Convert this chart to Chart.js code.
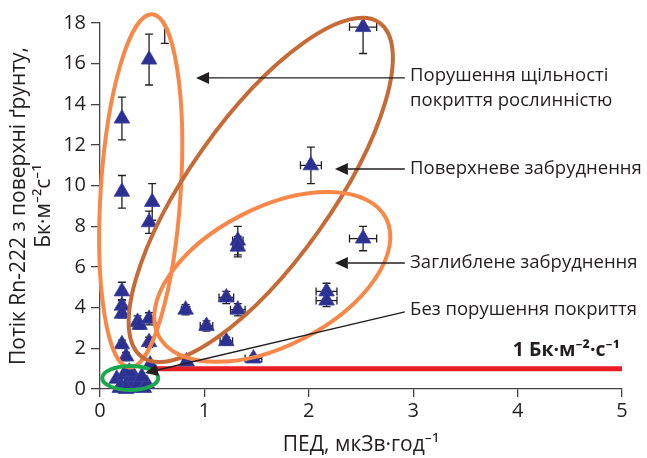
<!DOCTYPE html>
<html>
<head>
<meta charset="utf-8">
<script src="https://cdn.jsdelivr.net/npm/chart.js@4.4.1/dist/chart.umd.min.js"></script>
<style>
  body { margin: 0; background: #fff; }
  canvas { display: block; }
</style>
</head>
<body>
<canvas id="radonChart" width="647" height="458"></canvas>
<script>
// Measured points: dose rate (x), radon flux (y) and their errors
const doseRate = [0.62, 0.47, 0.21, 0.21, 0.50, 0.47, 1.32, 1.32, 2.02, 2.52, 2.52, 2.17, 2.17,
  1.21, 1.32, 0.82, 1.02, 1.21, 1.47, 0.83, 0.21, 0.21, 0.21, 0.36, 0.38, 0.47, 0.21, 0.25,
  0.47, 0.48, 0.16, 0.20, 0.23, 0.27, 0.30, 0.33, 0.37, 0.42, 0.45, 0.28, 0.19, 0.25, 0.40];
const radonFlux = [19.0, 16.2, 13.3, 9.7, 9.2, 8.2, 7.3, 7.0, 11.0, 17.8, 7.4, 4.8, 4.35,
  4.5, 3.9, 3.9, 3.1, 2.35, 1.5, 1.35, 4.8, 4.1, 3.7, 3.3, 3.15, 3.45, 2.2, 1.6,
  2.3, 1.2, 0.5, 0.15, 0.7, 0.35, 0.05, 0.6, 0.3, 0.05, 0.25, 0.85, 0.05, 0.0, 0.6];
const doseErr = [0, 0, 0, 0, 0, 0, 0.05, 0.05, 0.1, 0.13, 0.13, 0.1, 0.1,
  0.07, 0.07, 0.04, 0.06, 0.06, 0.08, 0.04, 0, 0, 0, 0, 0, 0, 0, 0,
  0, 0, 0, 0, 0, 0, 0, 0, 0, 0, 0, 0, 0, 0, 0];
const fluxErr = [2.0, 1.25, 1.05, 0.8, 0.9, 0.55, 0.7, 0.5, 0.9, 1.3, 0.6, 0.4, 0.3,
  0.3, 0.3, 0.25, 0.25, 0.2, 0.15, 0.15, 0.45, 0.3, 0.2, 0.3, 0.2, 0.3, 0.2, 0.2,
  0.25, 0.2, 0, 0, 0, 0, 0, 0, 0, 0, 0, 0, 0, 0, 0];

// Threshold line 1 Bq/m2/s
const limitX = [0.47, 5];
const limitY = [1, 1];

const xTicks = [0, 1, 2, 3, 4, 5];
const yTicks = [0, 2, 4, 6, 8, 10, 12, 14, 16, 18];

const FONT = '"Open Sans", "Noto Sans", sans-serif';
const INK = '#231f20';

function arrow(ctx, x1, y1, x2, y2) {
  const ang = Math.atan2(y2 - y1, x2 - x1);
  const len = 13, half = 6;
  ctx.beginPath();
  ctx.moveTo(x1, y1);
  ctx.lineTo(x2 - Math.cos(ang) * len, y2 - Math.sin(ang) * len);
  ctx.stroke();
  ctx.beginPath();
  ctx.moveTo(x2, y2);
  ctx.lineTo(x2 - Math.cos(ang) * len - Math.sin(ang) * half, y2 - Math.sin(ang) * len + Math.cos(ang) * half);
  ctx.lineTo(x2 - Math.cos(ang) * len + Math.sin(ang) * half, y2 - Math.sin(ang) * len - Math.cos(ang) * half);
  ctx.closePath();
  ctx.fill();
}

const overlay = {
  id: 'overlay',
  beforeDatasetsDraw(chart) {
    const { ctx, chartArea: a, scales: { x, y } } = chart;
    ctx.save();
    ctx.beginPath();
    ctx.rect(a.left, a.top, a.width, a.height);
    ctx.clip();
    ctx.strokeStyle = INK;
    ctx.lineWidth = 1.3;
    const cap = 4;
    for (let i = 0; i < doseRate.length; i++) {
      const px = x.getPixelForValue(doseRate[i]);
      const py = y.getPixelForValue(radonFlux[i]);
      ctx.beginPath();
      if (fluxErr[i]) {
        const t = y.getPixelForValue(radonFlux[i] + fluxErr[i]);
        const b = y.getPixelForValue(radonFlux[i] - fluxErr[i]);
        ctx.moveTo(px, t); ctx.lineTo(px, b);
        ctx.moveTo(px - cap, t); ctx.lineTo(px + cap, t);
        ctx.moveTo(px - cap, b); ctx.lineTo(px + cap, b);
      }
      if (doseErr[i]) {
        const l = x.getPixelForValue(doseRate[i] - doseErr[i]);
        const r = x.getPixelForValue(doseRate[i] + doseErr[i]);
        ctx.moveTo(l, py); ctx.lineTo(r, py);
        ctx.moveTo(l, py - cap); ctx.lineTo(l, py + cap);
        ctx.moveTo(r, py - cap); ctx.lineTo(r, py + cap);
      }
      ctx.stroke();
    }
    ctx.restore();
  },
  afterDatasetsDraw(chart) {
    const { ctx, scales: { x, y } } = chart;
    const X = v => x.getPixelForValue(v), Y = v => y.getPixelForValue(v);
    ctx.save();
    // group ellipses: centre in data units, radii in px, rotation in degrees
    const ellipses = [
      { cx: 0.39, cy: 9.74, rx: 40, ry: 177, rot: 3.7, color: '#f6894a' },
      { cx: 1.54, cy: 9.79, rx: 205, ry: 71, rot: -54.6, color: '#c66b36' },
      { cx: 1.65, cy: 5.51, rx: 128, ry: 69, rot: -27.3, color: '#f6894a' },
      { cx: 0.29, cy: 0.54, rx: 28, ry: 12, rot: 0, color: '#19a84b' }
    ];
    ctx.lineWidth = 4;
    ellipses.forEach(e => {
      ctx.strokeStyle = e.color;
      ctx.beginPath();
      ctx.ellipse(X(e.cx), Y(e.cy), e.rx, e.ry, e.rot * Math.PI / 180, 0, Math.PI * 2);
      ctx.stroke();
    });
    // arrows
    ctx.strokeStyle = INK;
    ctx.fillStyle = INK;
    ctx.lineWidth = 1.4;
    arrow(ctx, X(2.92), Y(15.30), X(0.92), Y(15.30));
    arrow(ctx, X(2.92), Y(10.82), X(2.25), Y(10.82));
    arrow(ctx, X(2.92), Y(6.20), X(2.25), Y(6.20));
    arrow(ctx, X(2.92), Y(3.79), X(0.43), Y(0.79));
    ctx.restore();
  },
  afterDraw(chart) {
    const { ctx, scales: { x, y } } = chart;
    const X = v => x.getPixelForValue(v), Y = v => y.getPixelForValue(v);
    ctx.save();
    ctx.fillStyle = INK;
    ctx.font = '18.5px ' + FONT;
    ctx.textBaseline = 'middle';
    ctx.textAlign = 'left';
    ctx.fillText('Порушення щільності', X(2.97), Y(15.4));
    ctx.fillText('покриття рослинністю', X(2.97), Y(14.2));
    ctx.fillText('Поверхневе забруднення', X(2.97), Y(10.82));
    ctx.fillText('Заглиблене забруднення', X(2.97), Y(6.20));
    ctx.fillText('Без порушення покриття', X(2.97), Y(3.89));
    ctx.font = 'bold 19.5px ' + FONT;
    ctx.textAlign = 'right';
    ctx.fillText('1 Бк·м⁻²·с⁻¹', X(4.98), Y(1.9));
    ctx.restore();
  }
};

new Chart(document.getElementById('radonChart'), {
  type: 'scatter',
  data: {
    datasets: [
      {
        type: 'line',
        data: limitX.map((v, i) => ({ x: v, y: limitY[i] })),
        borderColor: '#ec1c24',
        borderWidth: 5,
        pointRadius: 0,
        order: 2
      },
      {
        data: doseRate.map((v, i) => ({ x: v, y: radonFlux[i] })),
        pointStyle: 'triangle',
        pointRadius: 9,
        backgroundColor: '#2c3191',
        borderColor: '#3a40a0',
        borderWidth: 0.8,
        clip: { left: 10, top: 6, right: 10, bottom: 10 },
        order: 1
      }
    ]
  },
  options: {
    responsive: false,
    animation: false,
    layout: { padding: { top: 23, right: 25, left: 0, bottom: 0 } },
    plugins: { legend: { display: false }, tooltip: { enabled: false } },
    scales: {
      x: {
        type: 'linear', min: 0, max: 5,
        afterBuildTicks: s => { s.ticks = xTicks.map(v => ({ value: v })); },
        ticks: { color: INK, font: { size: 20, family: FONT }, padding: 2 },
        grid: { drawOnChartArea: false, tickLength: 8, color: '#444', lineWidth: 1.3 },
        border: { color: '#444', width: 1.3 },
        title: { display: true, text: 'ПЕД, мкЗв·год⁻¹', color: INK, font: { size: 21, family: FONT }, padding: 0 },
        afterFit: s => { s.height = 69; }
      },
      y: {
        type: 'linear', min: 0, max: 18,
        afterBuildTicks: s => { s.ticks = yTicks.map(v => ({ value: v })); },
        ticks: { color: INK, font: { size: 20, family: FONT }, padding: 5 },
        grid: { drawOnChartArea: false, tickLength: 9, color: '#444', lineWidth: 1.3 },
        border: { color: '#444', width: 1.3 },
        title: {
          display: true,
          text: ['Потік Rn-222 з поверхні ґрунту,', 'Бк·м⁻²с⁻¹'],
          color: INK, font: { size: 21, family: FONT, lineHeight: 1.18 }, padding: { top: 7, bottom: 0 }
        },
        afterFit: s => { s.width = 100; }
      }
    }
  },
  plugins: [overlay]
});
</script>
</body>
</html>
